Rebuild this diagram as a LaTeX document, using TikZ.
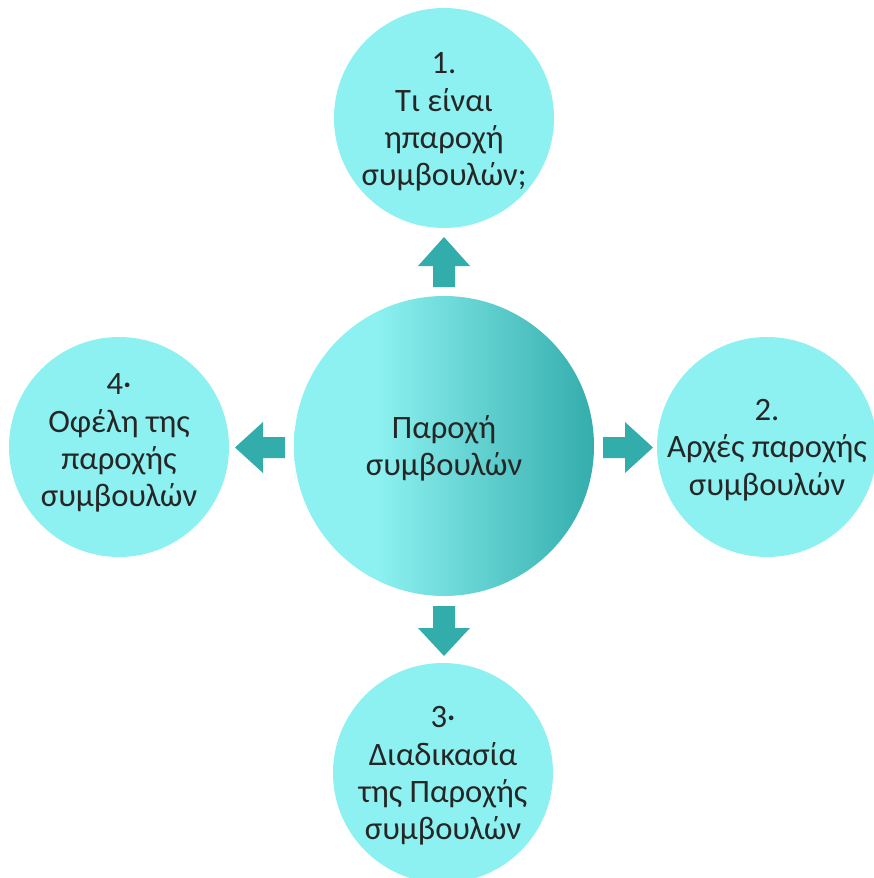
\documentclass[tikz,border=0pt]{standalone}
\usepackage{fontspec}
\setmainfont{Carlito}
\definecolor{lightcyan}{HTML}{8CF1F0}
\definecolor{darkteal}{HTML}{34ADAD}
\definecolor{arrowteal}{HTML}{33ACAC}
\definecolor{txt}{HTML}{262626}
\pgfdeclarehorizontalshading{centershade}{100bp}{color(0bp)=(lightcyan); color(25bp)=(lightcyan); color(39bp)=(lightcyan); color(75bp)=(darkteal); color(100bp)=(darkteal)}
\tikzset{
  bubble/.style={circle, fill=lightcyan, draw=none, minimum size=220*0.75pt, inner sep=0pt},
  bigbubble/.style={circle, shading=centershade, draw=none, minimum size=300*0.75pt, inner sep=0pt},
  lbl/.style={align=center, text=txt, font=\fontsize{24.5}{28}\selectfont},
  blockarrow/.style={fill=arrowteal, draw=none}
}
\begin{document}
\begin{tikzpicture}[x=0.75pt, y=-0.75pt]
\useasboundingbox (0,0) rectangle (874,878);
\clip (0,0) rectangle (874,878);
\node[bigbubble] (c) at (444,446) {};
\node[bubble] (t) at (444,118) {};
\node[bubble] (r) at (767,447) {};
\node[bubble] (b) at (443,773) {};
\node[bubble] (l) at (119,447) {};
\node[lbl] (ct) at (444,448) {Παροχή\\συμβουλών};
\node[lbl] (tt) at (444,122) {1.\\Τι είναι\\ηπαροχή\\συμβουλών;};
\node[lbl] (rt) at (767,450) {2.\\Αρχές παροχής\\συμβουλών};
\node[lbl] (bt) at (443,776) {3·\\Διαδικασία\\της Παροχής\\συμβουλών};
\node[lbl] (lt) at (119,443) {4·\\Οφέλη της\\παροχής\\συμβουλών};
\fill[blockarrow] (433,287) -- (433,266) -- (418,266) -- (444,237) -- (470,266) -- (455,266) -- (455,287) -- cycle;
\fill[blockarrow] (433,606) -- (455,606) -- (455,628) -- (470,628) -- (444,656) -- (418,628) -- (433,628) -- cycle;
\fill[blockarrow] (603,437) -- (625,437) -- (625,422) -- (653,447.5) -- (625,473) -- (625,458) -- (603,458) -- cycle;
\fill[blockarrow] (285,437) -- (263,437) -- (263,422) -- (235,447.5) -- (263,473) -- (263,458) -- (285,458) -- cycle;
\end{tikzpicture}
\end{document}
